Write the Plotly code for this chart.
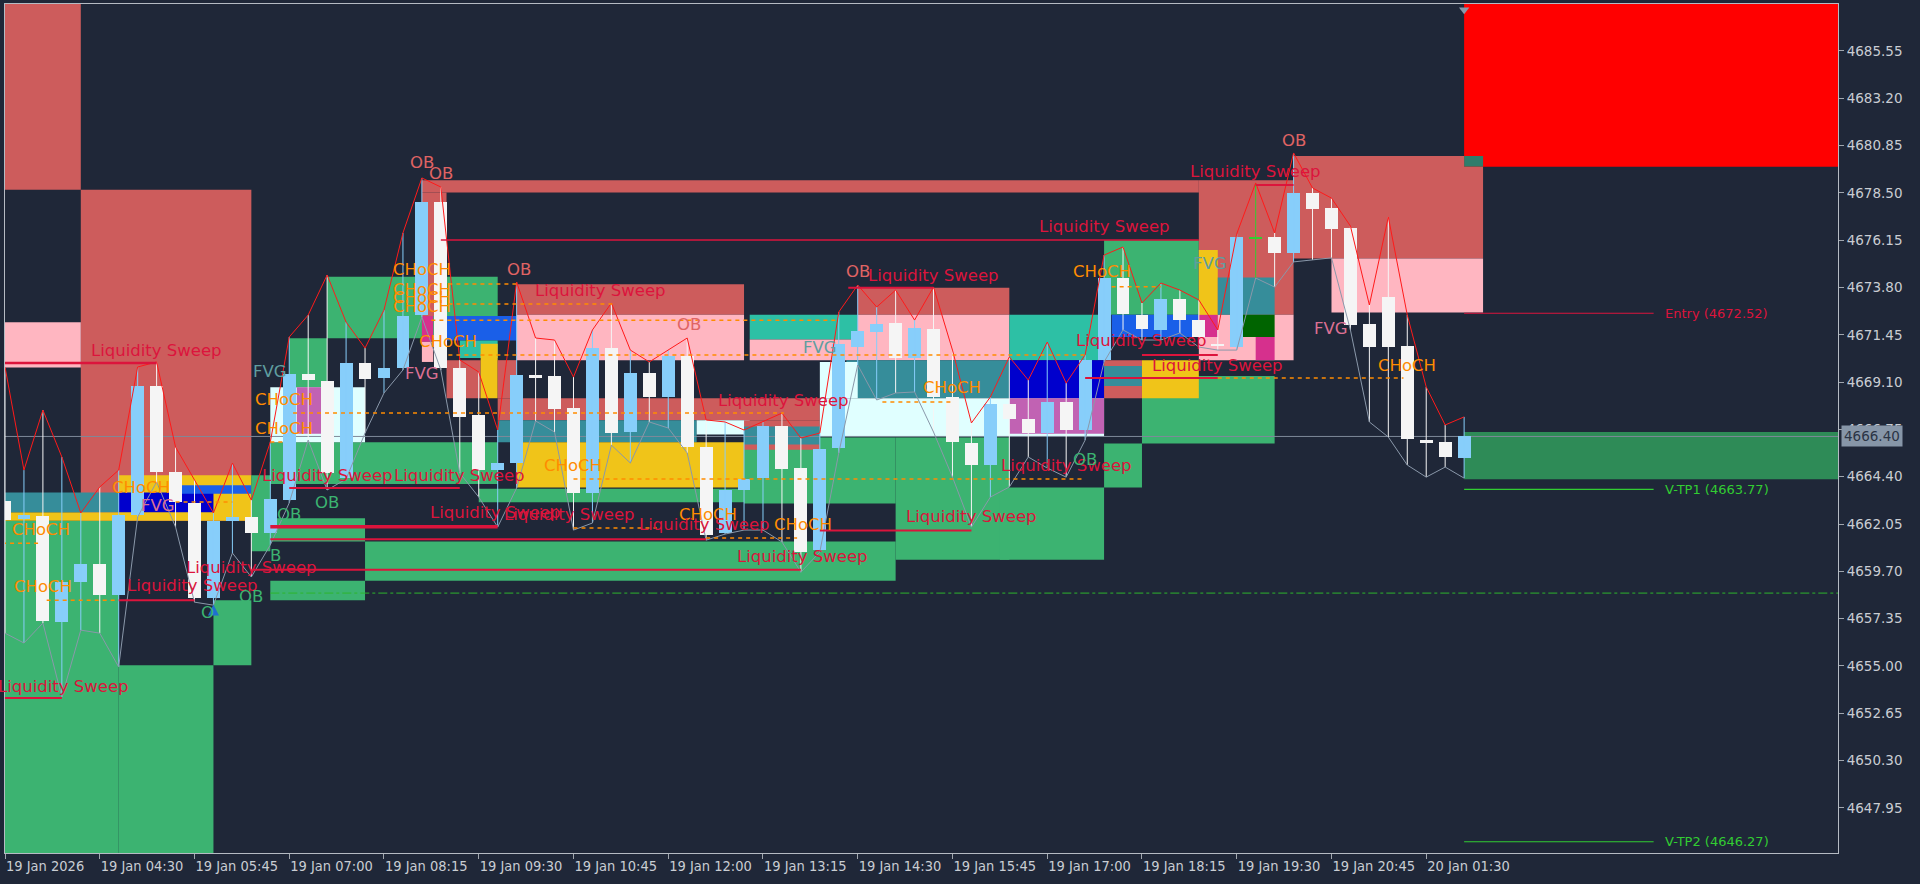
import plotly.graph_objects as go

# ---------------- data ----------------
TIME_TICK_BARS = [0, 5, 10, 15, 20, 25, 30, 35, 40, 45, 50, 55, 60, 65, 70, 75]
TIME_TICK_TEXT = ["19 Jan 2026", "19 Jan 04:30", "19 Jan 05:45", "19 Jan 07:00", "19 Jan 08:15",
                  "19 Jan 09:30", "19 Jan 10:45", "19 Jan 12:00", "19 Jan 13:15", "19 Jan 14:30",
                  "19 Jan 15:45", "19 Jan 17:00", "19 Jan 18:15", "19 Jan 19:30", "19 Jan 20:45",
                  "20 Jan 01:30"]

OPEN = [4663.19, 4662.30, 4662.45, 4657.18, 4659.17, 4660.06, 4658.52, 4662.50, 4668.90, 4664.63,
        4663.09, 4658.37, 4662.20, 4662.40, 4661.60, 4663.24, 4669.50, 4669.15, 4664.33, 4670.05,
        4669.30, 4669.80, 4672.43, 4678.05, 4669.80, 4667.46, 4664.73, 4665.08, 4669.45, 4669.40,
        4667.81, 4663.59, 4670.79, 4666.62, 4669.55, 4668.36, 4670.39, 4665.87, 4661.60, 4663.74,
        4664.33, 4666.92, 4664.83, 4660.76, 4665.82, 4670.84, 4671.59, 4672.03, 4670.29, 4671.74,
        4668.36, 4666.07, 4664.98, 4668.01, 4667.27, 4666.57, 4668.11, 4666.72, 4670.20, 4674.27,
        4672.43, 4671.69, 4673.23, 4672.18, 4670.99, 4670.84, 4676.26, 4676.31, 4675.51, 4678.49,
        4677.75, 4676.75, 4671.99, 4673.33, 4670.89, 4666.22, 4666.12, 4665.33]
HIGH = [4669.85, 4664.73, 4667.71, 4665.38, 4662.60, 4663.89, 4664.73, 4669.85, 4670.10, 4665.87,
        4664.24, 4662.60, 4665.08, 4663.24, 4666.12, 4671.34, 4672.43, 4674.42, 4672.08, 4670.79,
        4672.68, 4676.51, 4679.24, 4678.79, 4670.20, 4669.60, 4666.72, 4674.07, 4671.29, 4671.19,
        4669.35, 4671.69, 4673.03, 4670.69, 4670.10, 4670.69, 4671.29, 4667.22, 4667.12, 4666.72,
        4667.12, 4667.56, 4666.32, 4666.57, 4672.58, 4673.92, 4672.83, 4673.67, 4672.18, 4673.82,
        4670.69, 4667.07, 4668.36, 4670.35, 4669.20, 4671.09, 4669.05, 4670.45, 4675.41, 4675.81,
        4673.03, 4674.02, 4673.67, 4673.18, 4671.69, 4676.46, 4678.99, 4676.51, 4680.48, 4678.74,
        4678.24, 4676.85, 4672.93, 4677.30, 4672.43, 4668.86, 4666.97, 4667.37]
LOW = [4656.63, 4656.14, 4657.13, 4653.46, 4656.78, 4656.63, 4654.95, 4662.40, 4664.14, 4661.90,
       4658.17, 4658.02, 4660.61, 4659.42, 4661.01, 4663.10, 4666.22, 4663.74, 4664.28, 4666.57,
       4668.56, 4669.70, 4672.33, 4669.70, 4664.58, 4663.39, 4661.90, 4663.84, 4667.17, 4666.62,
       4661.75, 4662.10, 4665.97, 4665.08, 4667.12, 4666.82, 4665.58, 4661.25, 4661.55, 4661.75,
       4661.75, 4661.16, 4659.66, 4660.66, 4665.58, 4669.95, 4668.21, 4668.56, 4668.61, 4666.62,
       4664.38, 4661.90, 4663.39, 4663.89, 4665.38, 4664.83, 4664.38, 4666.22, 4670.10, 4671.69,
       4671.19, 4671.19, 4671.54, 4670.84, 4670.69, 4670.69, 4674.27, 4673.82, 4675.07, 4675.17,
       4675.27, 4671.69, 4667.12, 4666.37, 4664.98, 4664.38, 4664.88, 4664.33]
CLOSE = [4662.25, 4662.50, 4657.23, 4659.17, 4660.06, 4658.52, 4662.50, 4668.90, 4664.63, 4663.14,
         4658.37, 4662.20, 4662.40, 4661.60, 4663.29, 4669.50, 4669.20, 4664.58, 4670.05, 4669.25,
         4669.80, 4672.38, 4678.05, 4669.80, 4667.36, 4664.73, 4665.08, 4669.45, 4669.30, 4667.76,
         4663.59, 4670.79, 4666.57, 4669.55, 4668.36, 4670.39, 4665.87, 4661.50, 4663.74, 4664.28,
         4666.92, 4664.78, 4660.66, 4665.77, 4670.99, 4671.64, 4671.98, 4670.29, 4671.79, 4668.36,
         4666.12, 4664.98, 4668.01, 4667.27, 4666.57, 4668.11, 4666.72, 4670.20, 4674.27, 4672.48,
         4671.74, 4673.23, 4672.18, 4671.34, 4670.94, 4676.31, 4676.26, 4675.51, 4678.49, 4677.70,
         4676.70, 4671.94, 4670.84, 4670.84, 4666.27, 4666.07, 4665.38, 4666.40]

PRICE_TICKS = [4685.55, 4683.20, 4680.85, 4678.50, 4676.15, 4673.80, 4671.45, 4669.10, 4666.75,
               4664.40, 4662.05, 4659.70, 4657.35, 4655.00, 4652.65, 4650.30, 4647.95]
LAST_PRICE = 4666.40
ENTRY_PRICE = 4672.52
TP1_PRICE = 4663.77
TP2_PRICE = 4646.27
SIGNAL_BARS = [77, 87]
GUIDE_PRICE = 4658.62
GUIDE_START = 14

# zones: (start bar, end bar, top price, bottom price, kind)
ZONES = [
    (-1, 4, 4690, 4678.65, "ob_bear"),
    (4, 13, 4678.65, 4662.21, "ob_bear"),
    (-1, 4, 4672.07, 4669.82, "pink"),
    (-1, 6, 4662.21, 4640, "green"),
    (6, 11, 4655.03, 4640, "green"),
    (11, 13, 4658.26, 4655.03, "green"),
    (6, 13, 4664.47, 4662.21, "yellow"),
    (-1, 6, 4662.64, 4662.21, "yellow"),
    (-1, 6, 4663.61, 4662.64, "teal"),
    (6, 11, 4663.61, 4662.64, "blue"),
    (9.3, 13, 4663.98, 4663.55, "dblue"),
    (13, 14, 4664.47, 4660.70, "green"),
    (14, 26, 4666.11, 4664.04, "green"),
    (13, 19, 4662.34, 4661.18, "green"),
    (19, 47, 4661.18, 4659.23, "green"),
    (14, 19, 4659.23, 4658.26, "green"),
    (15, 17, 4671.28, 4668.85, "green"),
    (17, 26, 4674.33, 4671.28, "green"),
    (14, 19, 4668.85, 4666.11, "cyan"),
    (15.4, 16.8, 4668.85, 4666.54, "orchid"),
    (22, 63, 4679.13, 4678.52, "ob_bear"),
    (22, 23.3, 4678.52, 4672.38, "ob_bear"),
    (22, 22.6, 4672.38, 4671.10, "magenta"),
    (22, 22.6, 4671.10, 4670.10, "pink"),
    (23.3, 27, 4672.38, 4671.16, "dblue"),
    (24, 26, 4671.16, 4670.30, "turq"),
    (23.3, 25.1, 4670.19, 4668.30, "ob_bear"),
    (25.1, 26, 4671.00, 4668.30, "yellow"),
    (26, 27, 4670.19, 4668.30, "ob_bear"),
    (27, 39, 4673.96, 4672.44, "ob_bear"),
    (27, 39, 4672.44, 4670.19, "pink"),
    (39, 47, 4666.35, 4663.07, "green"),
    (47, 53, 4666.35, 4660.27, "green"),
    (26, 43, 4668.30, 4667.21, "ob_bear"),
    (26, 36.5, 4667.21, 4666.11, "teal"),
    (36.5, 39.3, 4667.21, 4666.50, "cyan"),
    (39, 43, 4667.21, 4665.74, "ob_bear"),
    (39, 43, 4666.90, 4666.00, "teal"),
    (25, 41, 4663.80, 4663.13, "green"),
    (27, 39, 4666.11, 4663.86, "yellow"),
    (39.3, 45, 4672.44, 4671.22, "turq"),
    (39.3, 45, 4671.22, 4670.19, "pink"),
    (45, 53, 4673.78, 4672.44, "ob_bear"),
    (45, 53, 4672.44, 4670.19, "pink"),
    (44.4, 53, 4670.19, 4668.30, "teal"),
    (43, 45, 4670.10, 4668.30, "cyan"),
    (43, 58, 4668.30, 4666.40, "cyan"),
    (53, 58, 4672.44, 4670.19, "turq"),
    (53, 58, 4670.19, 4668.30, "blue"),
    (53, 58, 4668.30, 4666.54, "orchid"),
    (52.5, 58, 4663.86, 4660.27, "green"),
    (58, 60, 4666.05, 4663.86, "green"),
    (60, 67, 4669.40, 4666.05, "green"),
    (58, 60, 4670.19, 4668.30, "ob_bear"),
    (58, 60, 4669.90, 4668.90, "teal"),
    (60, 63, 4670.19, 4668.30, "yellow"),
    (58, 63, 4676.15, 4672.44, "green"),
    (58.4, 63, 4672.44, 4671.34, "dblue"),
    (63, 68, 4679.13, 4672.44, "ob_bear"),
    (68, 78, 4680.33, 4675.24, "ob_bear"),
    (70, 78, 4675.24, 4672.56, "pink"),
    (63, 68, 4672.44, 4670.19, "pink"),
    (63, 64, 4675.66, 4671.34, "yellow"),
    (63, 64, 4672.44, 4671.34, "magenta"),
    (64, 67, 4674.30, 4672.44, "teal"),
    (65, 67, 4672.44, 4671.34, "dgreen"),
    (66, 67, 4671.34, 4670.19, "magenta"),
    (77, 98, 4690, 4679.80, "red"),
    (77, 78, 4680.33, 4679.80, "dteal"),
    (77, 98, 4666.62, 4664.28, "sea"),
]

# liquidity sweep lines: (start bar, end bar, price, weight)
SWEEP_LINES = [
    (-1, 8, 4670.05, 2.5), (-1, 3, 4653.41, 2), (23, 63, 4676.16, 1.5), (15, 24, 4663.84, 2),
    (14, 26, 4661.91, 3.5), (14, 37, 4661.30, 2), (13, 42, 4659.78, 2), (43, 51, 4661.73, 2),
    (6, 10, 4658.27, 2), (60, 64, 4670.45, 2), (57, 64, 4669.30, 2), (66, 68, 4678.89, 2),
    (44.5, 49, 4673.78, 2),
]

# CHoCH dashed levels: (start bar, end bar, price)
CHOCH_LINES = [
    (-1, 1.8, 4661.09), (2.2, 5.9, 4658.27), (9, 12, 4663.14), (15.2, 41.1, 4667.56),
    (23.4, 27, 4673.97), (23.4, 32.2, 4672.98), (22.5, 44, 4672.17), (23.4, 57, 4670.45),
    (30, 57, 4664.29), (30, 34.4, 4661.85), (37, 41.8, 4661.35), (46.3, 50, 4668.11),
    (58.4, 61, 4673.83), (64, 73.8, 4669.30), (14, 14.7, 4666.12),
]

# text labels: (text, bar, price, kind)
LABELS = [
    ("CHoCH", 1.9, 4661.79, "choch"), ("CHoCH", 2.0, 4658.93, "choch"), ("CHoCH", 7.2, 4663.86, "choch"),
    ("CHoCH", 14.7, 4668.24, "choch"), ("CHoCH", 14.7, 4666.78, "choch"), ("CHoCH", 22.0, 4674.69, "choch"),
    ("CHoCH", 22.0, 4673.72, "choch"), ("CHoCH", 22.0, 4673.29, "choch"), ("CHoCH", 22.0, 4672.87, "choch"),
    ("CHoCH", 23.4, 4671.10, "choch"), ("CHoCH", 30.0, 4664.95, "choch"), ("CHoCH", 37.1, 4662.52, "choch"),
    ("CHoCH", 42.1, 4662.03, "choch"), ("CHoCH", 50.0, 4668.85, "choch"), ("CHoCH", 57.9, 4674.57, "choch"),
    ("CHoCH", 74.0, 4669.94, "choch"),
    ("Liquidity Sweep", 8.0, 4670.67, "sweep"), ("Liquidity Sweep", 3.1, 4653.99, "sweep"),
    ("Liquidity Sweep", 17.0, 4664.47, "sweep"), ("Liquidity Sweep", 24.0, 4664.47, "sweep"),
    ("Liquidity Sweep", 31.4, 4673.66, "sweep"), ("Liquidity Sweep", 41.1, 4668.18, "sweep"),
    ("Liquidity Sweep", 49.0, 4674.39, "sweep"), ("Liquidity Sweep", 58.0, 4676.82, "sweep"),
    ("Liquidity Sweep", 56.0, 4664.95, "sweep"), ("Liquidity Sweep", 25.9, 4662.64, "sweep"),
    ("Liquidity Sweep", 29.8, 4662.52, "sweep"), ("Liquidity Sweep", 36.9, 4662.03, "sweep"),
    ("Liquidity Sweep", 42.1, 4660.45, "sweep"), ("Liquidity Sweep", 51.0, 4662.40, "sweep"),
    ("Liquidity Sweep", 13.0, 4659.90, "sweep"), ("Liquidity Sweep", 9.9, 4658.99, "sweep"),
    ("Liquidity Sweep", 60.0, 4671.16, "sweep"), ("Liquidity Sweep", 64.0, 4669.94, "sweep"),
    ("Liquidity Sweep", 66.0, 4679.56, "sweep"),
    ("OB", 22.0, 4679.99, "ob_bear"), ("OB", 23.0, 4679.44, "ob_bear"), ("OB", 27.1, 4674.69, "ob_bear"),
    ("OB", 36.1, 4671.95, "ob_bear"), ("OB", 45.0, 4674.57, "ob_bear"), ("OB", 68.0, 4681.08, "ob_bear"),
    ("OB", 17.0, 4663.13, "ob_bull"), ("OB", 15.0, 4662.52, "ob_bull"), ("B", 14.3, 4660.51, "ob_bull"),
    ("OB", 13.0, 4658.44, "ob_bull"), ("OB", 57.0, 4665.26, "ob_bull"), ("O", 10.7, 4657.65, "ob_bull"),
    ("FVG", 14.0, 4669.64, "fvg_a"), ("FVG", 43.0, 4670.80, "fvg_a"), ("FVG", 63.6, 4675.00, "fvg_a"),
    ("FVG", 22.0, 4669.52, "fvg_b"), ("FVG", 8.1, 4662.95, "fvg_b"), ("FVG", 70.0, 4671.77, "fvg_b"),
]

# ---------------- styles ----------------
BG = "#1F2738"
ZONE_COLORS = {
    "ob_bear": "#CD5C5C", "pink": "#FFB6C1", "green": "#3CB371", "teal": "#368D9A",
    "turq": "#2DC0A5", "yellow": "#F0C419", "blue": "#0000CD", "dblue": "#1A5FE8",
    "orchid": "#C162B3", "cyan": "#E0FFFF", "magenta": "#D6308D", "dgreen": "#006400",
    "red": "#FF0000", "dteal": "#2E7D6B", "sea": "#2E8B57",
}
LABEL_COLORS = {"choch": "#FF8C00", "sweep": "#DC143C", "ob_bear": "#E06464",
                "ob_bull": "#3CB371", "fvg_a": "#5F9EA0", "fvg_b": "#DB7093"}
BULL = "#87CEFA"
BEAR = "#F5F5F5"
DOJI = "#32CD32"
TEXT_FONT = "DejaVu Sans, Verdana, sans-serif"
X_RANGE = [0, 96.73]
Y_RANGE = [4645.71, 4687.88]

fig = go.Figure()
shapes = []
for x0, x1, top, bot, kind in ZONES:
    shapes.append(dict(type="rect", xref="x", yref="y", x0=x0, x1=x1, y0=bot, y1=top,
                       fillcolor=ZONE_COLORS[kind], line=dict(width=0), layer="below"))
shapes.append(dict(type="line", xref="x", yref="y", x0=X_RANGE[0], x1=X_RANGE[1],
                   y0=LAST_PRICE, y1=LAST_PRICE, line=dict(color="#7F8A99", width=1), layer="below"))
for x0, x1, p, w in SWEEP_LINES:
    shapes.append(dict(type="line", xref="x", yref="y", x0=x0, x1=x1, y0=p, y1=p,
                       line=dict(color="#DC143C", width=w)))
for x0, x1, p in CHOCH_LINES:
    shapes.append(dict(type="line", xref="x", yref="y", x0=x0, x1=x1, y0=p, y1=p,
                       line=dict(color="#FF8C00", width=1.5, dash="4px,4px")))
shapes.append(dict(type="line", xref="x", yref="y", x0=GUIDE_START, x1=X_RANGE[1],
                   y0=GUIDE_PRICE, y1=GUIDE_PRICE, line=dict(color="#2DB52D", width=1, dash="dashdot")))
for price, col in [(ENTRY_PRICE, "#DC143C"), (TP1_PRICE, "#32CD32"), (TP2_PRICE, "#32CD32")]:
    shapes.append(dict(type="line", xref="x", yref="y", x0=SIGNAL_BARS[0], x1=SIGNAL_BARS[1],
                       y0=price, y1=price, line=dict(color=col, width=1.2)))

# candles
bars = list(range(len(OPEN)))
groups = {"bull": ([], []), "bear": ([], []), "doji": ([], [])}
body_x, body_base, body_h, body_col = [], [], [], []
for i, o, h, l, c in zip(bars, OPEN, HIGH, LOW, CLOSE):
    kind = "doji" if o == c else ("bull" if c > o else "bear")
    col = {"bull": BULL, "bear": BEAR, "doji": DOJI}[kind]
    gx, gy = groups[kind]
    gx += [i, i, None]
    gy += [l, h, None]
    body_x.append(i)
    lo = min(o, c)
    hgt = abs(c - o)
    if hgt < 0.09:
        lo = (o + c) / 2 - 0.045
        hgt = 0.09
    body_base.append(lo)
    body_h.append(hgt)
    body_col.append(col)

for kind, col in [("bull", BULL), ("bear", BEAR), ("doji", DOJI)]:
    gx, gy = groups[kind]
    fig.add_trace(go.Scatter(x=gx, y=gy, mode="lines", line=dict(color=col, width=1),
                             hoverinfo="skip", showlegend=False))
fig.add_trace(go.Bar(x=body_x, y=body_h, base=body_base, width=0.68,
                     marker=dict(color=body_col, line=dict(width=0)), hoverinfo="skip", showlegend=False))
fig.add_trace(go.Scatter(x=bars, y=HIGH, mode="lines", line=dict(color="#FF1A1A", width=1),
                         hoverinfo="skip", showlegend=False))
fig.add_trace(go.Scatter(x=bars, y=LOW, mode="lines", line=dict(color="#8A98AA", width=1),
                         hoverinfo="skip", showlegend=False))
fig.add_trace(go.Scatter(x=[11], y=[4658.05], mode="markers",
                         marker=dict(symbol="arrow-up", size=11, color="#1F6FD0"),
                         hoverinfo="skip", showlegend=False))
fig.add_trace(go.Scatter(x=[SIGNAL_BARS[0]], y=[4687.6], mode="markers",
                         marker=dict(symbol="triangle-down", size=9, color="#8A98AA"),
                         hoverinfo="skip", showlegend=False))

annotations = []
for text, b, p, kind in LABELS:
    annotations.append(dict(x=b, y=p, xref="x", yref="y", text=text, showarrow=False,
                            font=dict(family=TEXT_FONT, size=16.5, color=LABEL_COLORS[kind]),
                            xanchor="center", yanchor="middle"))
for text, p, col in [("Entry (%.2f)" % ENTRY_PRICE, ENTRY_PRICE, "#DC143C"),
                     ("V-TP1 (%.2f)" % TP1_PRICE, TP1_PRICE, "#32CD32"),
                     ("V-TP2 (%.2f)" % TP2_PRICE, TP2_PRICE, "#32CD32")]:
    annotations.append(dict(x=SIGNAL_BARS[1] + 0.5, y=p, xref="x", yref="y", text=text, showarrow=False,
                            font=dict(family=TEXT_FONT, size=13, color=col),
                            xanchor="left", yanchor="middle"))
annotations.append(dict(x=1, y=LAST_PRICE, xref="paper", yref="y", text="%.2f" % LAST_PRICE,
                        showarrow=False, xanchor="left", yanchor="middle", xshift=3,
                        bgcolor="#8796A8", borderpad=2,
                        font=dict(family="DejaVu Sans, sans-serif", size=13.5, color="#2B3445")))

fig.update_layout(
    width=1920, height=884,
    margin=dict(l=5, r=82, t=4, b=31),
    paper_bgcolor=BG, plot_bgcolor=BG,
    shapes=shapes, annotations=annotations,
    showlegend=False, bargap=0,
    xaxis=dict(range=X_RANGE, tickvals=TIME_TICK_BARS, ticktext=TIME_TICK_TEXT,
               ticklabelposition="outside right", ticks="outside", ticklen=5, tickcolor="#A0A6AE",
               showline=True, mirror=True, linecolor="#B5BBC3", linewidth=1,
               showgrid=False, zeroline=False,
               tickfont=dict(family="DejaVu Sans Condensed, Liberation Sans Narrow, DejaVu Sans, sans-serif",
                             size=14.5, color="#C9CDD3")),
    yaxis=dict(range=Y_RANGE, side="right", tickvals=PRICE_TICKS,
               ticktext=["%.2f" % v for v in PRICE_TICKS], ticks="outside", ticklen=5, tickcolor="#A0A6AE",
               showline=True, mirror=True, linecolor="#B5BBC3", linewidth=1,
               showgrid=False, zeroline=False,
               tickfont=dict(family="DejaVu Sans, sans-serif", size=13.5, color="#C9CDD3")),
)

fig.write_html("out.html", config={"displayModeBar": False},
               post_script="document.body.style.margin='0';document.body.style.overflow='hidden';"
                           "document.body.style.background='" + BG + "';")
